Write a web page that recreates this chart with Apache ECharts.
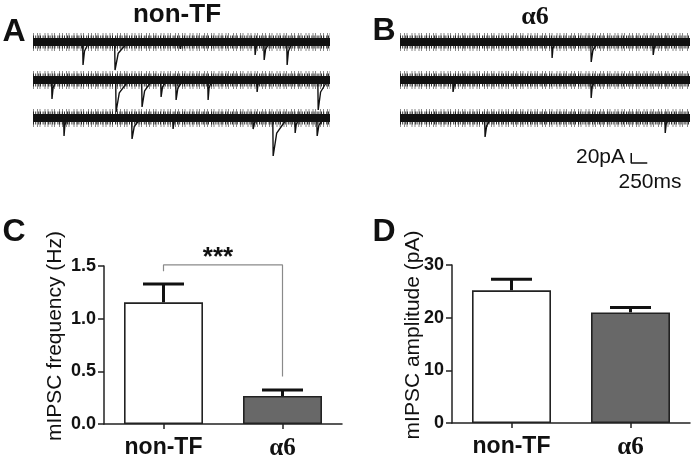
<!DOCTYPE html>
<html>
<head>
<meta charset="utf-8">
<script src="https://cdn.jsdelivr.net/npm/echarts@6/dist/echarts.min.js"></script>
<style>
html,body{margin:0;padding:0;background:#fff;}
#chart{width:693px;height:463px;}
</style>
</head>
<body>
<div id="chart"></div>
<script>
// ---------------- data ----------------
const categories = ['non-TF', 'α6'];
const freqMean = [1.155, 0.266];      // Hz
const freqSem  = [0.175, 0.057];
const ampMean  = [25.2, 21.0];        // pA
const ampSem   = [2.1, 0.95];
const freqTicks = [0, 0.5, 1.0, 1.5];
const ampTicks  = [0, 10, 20, 30];
const sigLabel = '***';
const sigBracket = [1.45, 1.51, 0.45];   // left end, bar height, right end (Hz)

// traces: events per row as [time ms, amplitude pA (downward), decay ms]
const rowLenA = 4630;
const rowLenB = 4520;
const rowOffsets = [0, -76, -152];     // pA offsets between rows
const eventsA = [
  [[780, 46, 90], [1279, 56, 200], [2300, 14, 40], [3463, 26, 60], [3604, 36, 90], [3962, 46, 80]],
  [[296, 38, 70], [1295, 64, 200], [1700, 54, 160], [1997, 34, 90], [2231, 40, 110], [2730, 40, 60], [3494, 24, 50], [4446, 60, 150]],
  [[484, 36, 50], [1544, 42, 140], [2184, 22, 50], [3432, 22, 90], [3744, 76, 220], [4087, 30, 70], [4430, 36, 110]]
];
const eventsB = [
  [[2371, 32, 50], [2980, 40, 110], [3947, 26, 70]],
  [[827, 24, 80], [2980, 36, 60]],
  [[1326, 38, 100], [4134, 30, 60]]
];
const scaleBarPA = 20;
const scaleBarMS = 250;
const scaleBarAt = [3604, -242];   // anchor (ms, pA) of the L corner

// ---------------- chart ----------------
const FONT = "'Liberation Sans', Arial, sans-serif";
const SERIF = "'Liberation Serif', 'Times New Roman', serif";
const chart = echarts.init(document.getElementById('chart'));

function bandSeries(grid, len, off, width, opacity, dash) {
  return {
    type: 'line', xAxisIndex: grid, yAxisIndex: grid, symbol: 'none', silent: true,
    data: [[0, off], [len, off]],
    lineStyle: { color: '#111', width: width, opacity: opacity, type: dash || 'solid', cap: 'butt' }
  };
}
function spikeSeries(grid, len, off, evs) {
  const pts = [[0, off]];
  evs.forEach(e => {
    pts.push([e[0] - 6, off]);
    pts.push([e[0], off - e[1]]);
    pts.push([e[0] + e[2] * 0.25, off - e[1] * 0.4]);
    pts.push([e[0] + e[2], off]);
  });
  pts.push([len, off]);
  return {
    type: 'line', xAxisIndex: grid, yAxisIndex: grid, symbol: 'none', silent: true,
    data: pts, lineStyle: { color: '#111', width: 1.4 }
  };
}

const series = [];
[[0, rowLenA, eventsA], [1, rowLenB, eventsB]].forEach(([g, len, evs]) => {
  rowOffsets.forEach((off, r) => {
    series.push(bandSeries(g, len, off, 18, 0.5, [1, 3, 1, 1.5, 1, 4, 1, 2]));
    series.push(bandSeries(g, len, off, 13, 0.85, [1, 1.2, 1, 2, 1, 0.8, 1, 1.6]));
    series.push(bandSeries(g, len, off, 8, 1));
    series.push(spikeSeries(g, len, off, evs[r]));
  });
});
// scale bar
series.push({
  type: 'line', xAxisIndex: 1, yAxisIndex: 1, symbol: 'none', silent: true,
  data: [[scaleBarAt[0], scaleBarAt[1] + scaleBarPA], [scaleBarAt[0], scaleBarAt[1]], [scaleBarAt[0] + scaleBarMS, scaleBarAt[1]]],
  lineStyle: { color: '#111', width: 1.5 }
});

function barSeries(grid, means) {
  return {
    type: 'bar', xAxisIndex: grid, yAxisIndex: grid, barWidth: 79, silent: true,
    data: means.map((m, i) => ({
      value: [i, m],
      itemStyle: { color: i === 0 ? '#ffffff' : '#686868', borderColor: '#222', borderWidth: 1.6 }
    }))
  };
}
function errSeries(grid, means, sems) {
  return {
    type: 'custom', xAxisIndex: grid, yAxisIndex: grid, silent: true,
    data: means.map((m, i) => [i, m, sems[i]]),
    renderItem: function (params, api) {
      const x = api.value(0), m = api.value(1), s = api.value(2);
      const b = api.coord([x, m]), t = api.coord([x, m + s]);
      return {
        type: 'group', children: [
          { type: 'line', shape: { x1: b[0], y1: b[1], x2: t[0], y2: t[1] }, style: { stroke: '#111', lineWidth: 3 } },
          { type: 'line', shape: { x1: t[0] - 20.5, y1: t[1], x2: t[0] + 20.5, y2: t[1] }, style: { stroke: '#111', lineWidth: 3 } }
        ]
      };
    }
  };
}
series.push(barSeries(2, freqMean));
series.push(errSeries(2, freqMean, freqSem));
series.push(barSeries(3, ampMean));
series.push(errSeries(3, ampMean, ampSem));
series.push({
  type: 'line', xAxisIndex: 2, yAxisIndex: 2, symbol: 'none', silent: true, clip: false,
  data: [[0, sigBracket[0]], [0, sigBracket[1]], [1, sigBracket[1]], [1, sigBracket[2]]],
  lineStyle: { color: '#8a8a8a', width: 1.2 }
});

const hiddenX = (min, max, g) => ({ type: 'value', gridIndex: g, min: min, max: max, show: false });
const hiddenY = (g) => ({ type: 'value', gridIndex: g, min: -256, max: 44, show: false });

function catX(g) {
  return {
    type: 'value', gridIndex: g, min: -0.5, max: 1.5,
    splitLine: { show: false },
    axisLine: { onZero: false, lineStyle: { color: '#222', width: 1.5 } },
    axisTick: { customValues: [0, 1], length: 5, lineStyle: { color: '#222', width: 1.5 } },
    axisLabel: {
      customValues: [0, 1], margin: 12,
      formatter: v => (v === 1 ? '{s|' + categories[1] + '}' : '{n|' + categories[0] + '}'),
      rich: {
        n: { fontFamily: FONT, fontWeight: 'bold', fontSize: 23, color: '#111' },
        s: { fontFamily: SERIF, fontWeight: 'bold', fontSize: 25, color: '#111' }
      }
    }
  };
}
function valY(g, max, interval, fmt) {
  return {
    type: 'value', gridIndex: g, min: 0, max: max, interval: interval,
    splitLine: { show: false },
    axisLine: { show: true, onZero: false, lineStyle: { color: '#222', width: 1.5 } },
    axisTick: { show: true, length: 6, lineStyle: { color: '#222', width: 1.5 } },
    axisLabel: { fontFamily: FONT, fontWeight: 'bold', fontSize: 18, color: '#111', margin: 8, formatter: fmt }
  };
}

const txt = (x, y, text, size, opts) => Object.assign({
  type: 'text', x: x, y: y,
  style: Object.assign({ text: text, fontFamily: FONT, fontSize: size, fill: '#111', align: 'center', verticalAlign: 'middle' }, opts || {})
});

chart.setOption({
  animation: false,
  backgroundColor: '#fff',
  grid: [
    { left: 33, top: 20, width: 297, height: 150 },
    { left: 400, top: 20, width: 290, height: 150 },
    { left: 104, top: 266, width: 238, height: 158 },
    { left: 452, top: 265, width: 238, height: 158 }
  ],
  xAxis: [hiddenX(0, rowLenA, 0), hiddenX(0, rowLenB, 1), catX(2), catX(3)],
  yAxis: [hiddenY(0), hiddenY(1),
    valY(2, freqTicks[freqTicks.length - 1], freqTicks[1] - freqTicks[0], v => v.toFixed(1)),
    valY(3, ampTicks[ampTicks.length - 1], ampTicks[1] - ampTicks[0], v => String(v))],
  series: series,
  graphic: [
    txt(14, 32, 'A', 32, { fontWeight: 'bold' }),
    txt(384, 31, 'B', 32, { fontWeight: 'bold' }),
    txt(14, 232, 'C', 32, { fontWeight: 'bold' }),
    txt(384, 232, 'D', 32, { fontWeight: 'bold' }),
    txt(177, 15, 'non-TF', 26, { fontWeight: 'bold' }),
    txt(535, 17, 'α6', 26, { fontWeight: 'bold', fontFamily: SERIF }),
    txt(625, 157, '20pA', 21, { align: 'right' }),
    txt(650, 182, '250ms', 21),
    txt(218, 258, sigLabel, 26, { fontWeight: 'bold' }),
    Object.assign(txt(55, 336, 'mIPSC frequency (Hz)', 21), { rotation: Math.PI / 2 }),
    Object.assign(txt(413, 335, 'mIPSC amplitude (pA)', 21), { rotation: Math.PI / 2 })
  ]
});
</script>
</body>
</html>
